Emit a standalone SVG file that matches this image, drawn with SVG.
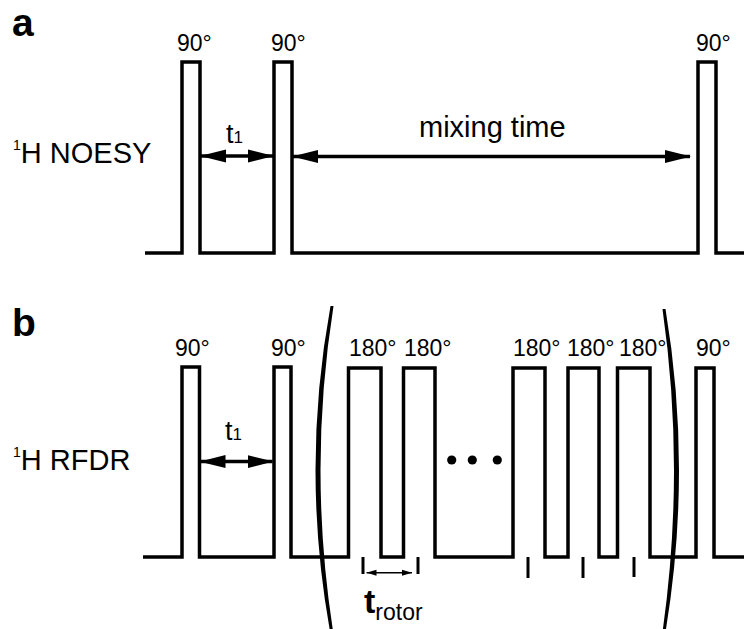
<svg xmlns="http://www.w3.org/2000/svg" width="744" height="629" viewBox="0 0 744 629">
<defs>
<style>
.seq{fill:none;stroke:#000;stroke-width:3.5;stroke-linejoin:miter;stroke-linecap:butt}
.tick{stroke:#000;stroke-width:3}
.arr{stroke:#000;stroke-width:3.4}
.arrs{stroke:#000;stroke-width:1.6}
.t{font-family:"Liberation Sans",Arial,sans-serif;fill:#000}
.deg{font-size:23px}
.lab{font-size:29px}
.pan{font-size:39px;font-weight:bold}
</style>
<marker id="ah" markerUnits="userSpaceOnUse" markerWidth="26" markerHeight="14" refX="25" refY="7" orient="auto-start-reverse" viewBox="0 0 26 14">
<path d="M0,0.5 L26,7 L0,13.5 Z" fill="#000"/>
</marker>
<marker id="ahs" markerUnits="userSpaceOnUse" markerWidth="10" markerHeight="7" refX="10" refY="3.5" orient="auto-start-reverse" viewBox="0 0 10 7">
<path d="M0,0.5 L10,3.5 L0,6.5 Z" fill="#000"/>
</marker>
</defs>
<rect width="744" height="629" fill="#fff"/>

<g id="panel-a">
<text class="t pan" x="12" y="36">a</text>
<g id="a-label"><text class="t lab" x="13" y="163"><tspan font-size="14" dy="-13">1</tspan><tspan dy="13">H NOESY</tspan></text></g>
<g id="a-sequence"><path class="seq" d="M145,253 H182 V62 H200 V253 H274 V62 H292 V253 H698 V62 H716 V253 H744"/></g>
<g id="a-pulse-labels">
<text class="t deg" x="177" y="51">90°</text>
<text class="t deg" x="271" y="51">90°</text>
<text class="t deg" x="696" y="51">90°</text>
</g>
<g id="a-t1-label"><text class="t" x="226" y="143" font-size="27">t<tspan font-size="17">1</tspan></text></g>
<g id="a-mixing-label"><text class="t lab" x="419" y="137">mixing time</text></g>
</g>

<g id="panel-b">
<text class="t pan" x="12" y="336">b</text>
<g id="b-label"><text class="t lab" x="13" y="470"><tspan font-size="14" dy="-13">1</tspan><tspan dy="13">H RFDR</tspan></text></g>
<g id="b-sequence"><path class="seq" d="M143,557 H182 V367 H199.5 V557 H274 V367 H291 V557 H348.5 V368 H381 V557 H403.5 V368 H435 V557 H513 V368 H545 V557 H568 V368 H599 V557 H617.5 V368 H650 V557 H696 V368 H714 V557 H744"/></g>
<g id="b-pulse-labels">
<text class="t deg" x="175" y="356">90°</text>
<text class="t deg" x="271" y="356">90°</text>
<text class="t deg" x="349" y="356">180°</text>
<text class="t deg" x="404" y="356">180°</text>
<text class="t deg" x="513" y="356">180°</text>
<text class="t deg" x="567" y="356">180°</text>
<text class="t deg" x="619" y="356">180°</text>
<text class="t deg" x="696" y="356">90°</text>
</g>
<g id="b-t1-label"><text class="t" x="225" y="440" font-size="27">t<tspan font-size="17">1</tspan></text></g>
<g id="b-brackets">
<path d="M330.5,306 Q300.5,470 330.5,634 L333.5,634 Q307.5,470 333.5,306 Z" fill="#000"/>
<path d="M665.5,309 Q692.5,470 665.5,632 L662.5,632 Q685.5,470 662.5,309 Z" fill="#000"/>
</g>
<g id="b-dots">
<circle cx="451.7" cy="460" r="4.6"/>
<circle cx="472.3" cy="460" r="4.6"/>
<circle cx="497.3" cy="460" r="4.6"/>
</g>
<g id="b-ticks">
<line class="tick" x1="363" y1="557" x2="363" y2="574"/>
<line class="tick" x1="418" y1="557" x2="418" y2="574"/>
<line class="tick" x1="528" y1="557" x2="528" y2="578"/>
<line class="tick" x1="583" y1="557" x2="583" y2="578"/>
<line class="tick" x1="634" y1="557" x2="634" y2="577"/>
</g>
<g id="b-trotor-label"><text class="t" x="364" y="613"><tspan font-size="34" font-weight="bold">t</tspan><tspan font-size="23" dy="7">rotor</tspan></text></g>
</g>

<g id="connectors">
<line class="arr" x1="201" y1="156" x2="273" y2="156" marker-start="url(#ah)" marker-end="url(#ah)"/>
<line class="arr" x1="293" y1="156.5" x2="690" y2="156.5" marker-start="url(#ah)" marker-end="url(#ah)"/>
<line class="arr" x1="200.5" y1="461.5" x2="272.5" y2="461.5" marker-start="url(#ah)" marker-end="url(#ah)"/>
<line class="arrs" x1="366.5" y1="572.7" x2="412" y2="572.7" marker-start="url(#ahs)" marker-end="url(#ahs)"/>
</g>
</svg>
